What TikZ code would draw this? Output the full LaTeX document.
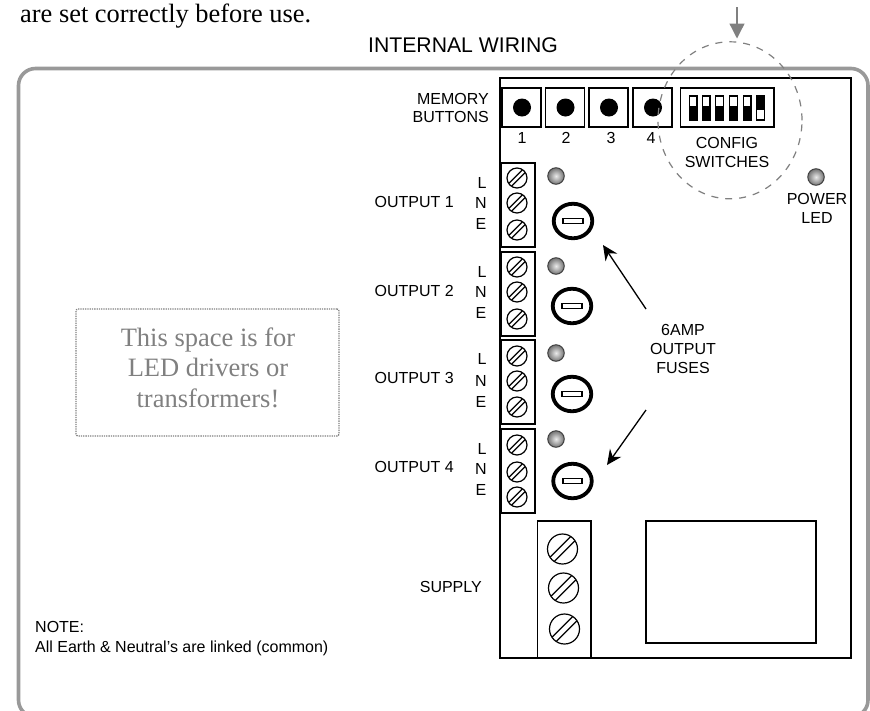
\documentclass[tikz,border=0pt]{standalone}
\usepackage{fontspec}
\setmainfont{Liberation Sans}
\newfontfamily\timesf{Liberation Serif}
\usetikzlibrary{shapes.geometric,arrows.meta}
\definecolor{framegray}{HTML}{999999}
\definecolor{dimgray}{HTML}{808080}
\tikzset{
  x=1pt,y=-1pt,
  lbl/.style={font=\fontsize{16}{18.8}\selectfont,inner sep=0pt,align=center},
  frameline/.style={draw=framegray,line width=3.6pt,rounded corners=17pt},
  boardline/.style={draw=black,line width=1.8pt},
  boxline/.style={draw=black,line width=1.6pt},
  blockline/.style={draw=black,line width=1.4pt,fill=white},
  ledshape/.style={circle,minimum size=16.5pt,inner sep=0pt,draw=black!75,line width=1pt,inner color=white!92!black,outer color=black!55},
  dotshape/.style={circle,minimum size=18pt,inner sep=0pt,fill=black},
  fuseshape/.style={ellipse,minimum width=38.5pt,minimum height=34.5pt,inner sep=0pt,draw=black,line width=3.8pt,fill=white},
  slotshape/.style={rectangle,minimum width=19.5pt,minimum height=5pt,inner sep=0pt,draw=black,line width=1.6pt,fill=white},
  arrowline/.style={draw=black,line width=1.3pt,-{Stealth[length=15pt,width=14pt,inset=5pt]}},
}
\newcommand{\screwat}[4]{%
  \node[circle,draw=black,line width=1.2pt,minimum size=#3,inner sep=0pt,fill=white] (#4) at (#1,#2) {};
  \draw[line width=1.2pt,shift={(#1,#2)}] (-#3*.405,-#3*.265) -- (#3*.265,#3*.405)
    (-#3*.265,-#3*.405) -- (#3*.405,#3*.265);}
\newcommand{\switchat}[2]{%
  \fill[black] (#1,95) rectangle (#1+9,121);
  \ifnum#2=0
    \fill[white] (#1+1.3,97) rectangle (#1+7.7,106);
  \else
    \fill[white] (#1+1.3,110) rectangle (#1+7.7,119);
  \fi}
\begin{document}
\begin{tikzpicture}
\useasboundingbox (0,0) rectangle (870,710);
\node[anchor=base west,inner sep=0pt,font=\timesf\fontsize{26.4}{30}\selectfont] (top) at (20,22) {are set correctly before use.};
\node[lbl,font=\fontsize{21.2}{24}\selectfont] (title) at (463,45) {INTERNAL WIRING};
\begin{scope}
\clip (0,0) rectangle (870,710);
\draw[frameline] (18.5,68.5) -- (868,68.5) -- (868,717) -- (18.5,717) -- cycle;
\end{scope}
\draw[boardline,fill=white] (500,78) rectangle (851,658);

% memory buttons
\foreach \xa/\n/\xn in {502/1/522,545.5/2/566,589/3/611,633/4/651}{
  \draw[boxline] (\xa,88) rectangle (\xa+39,127);
  \node[dotshape] (btn\n) at (\xa+20,107.5) {};
  \node[lbl] (num\n) at (\xn,137.5) {\n};
}
\node[lbl,align=right,anchor=east] (mem) at (489,108) {MEMORY\\BUTTONS};

% config switches
\draw[boxline] (680.5,88) rectangle (774,127);
\switchat{688.5}{0}\switchat{701.5}{0}\switchat{715}{0}\switchat{729}{0}\switchat{742.5}{0}\switchat{756}{1}
\node[lbl] (cfg) at (727,152.5) {CONFIG\\SWITCHES};

% output terminals
\draw[blockline] (501,163) rectangle (535,247);
\draw[blockline] (501,252) rectangle (535,336);
\draw[blockline] (501,340) rectangle (535,424);
\draw[blockline] (501,429) rectangle (535,513);
\foreach \n/\ya/\yb/\yc in {1/178/203/230,2/267/292/319,3/356/381/407,4/445/472/497}{
  \screwat{517}{\ya}{20pt}{sa\n}
  \screwat{517}{\yb}{20pt}{sb\n}
  \screwat{517}{\yc}{20pt}{sc\n}
}
\foreach \n/\ya/\yb/\yc/\yt in {1/183/203/224/202,2/272/292/313/291,3/359/381/402/378,4/449/469/490/467}{
  \node[lbl] (l\n) at (482,\ya) {L};
  \node[lbl] (n\n) at (481,\yb) {N};
  \node[lbl] (e\n) at (481,\yc) {E};
  \node[lbl,anchor=east] (out\n) at (454,\yt) {OUTPUT \n};
}

% leds and fuses
\node[ledshape] (led1) at (556,176) {};
\node[ledshape] (led2) at (556,266) {};
\node[ledshape] (led3) at (556,353) {};
\node[ledshape] (led4) at (556,439) {};
\node[ledshape] (ledp) at (816,177) {};
\node[lbl] (pwr) at (817,208.5) {POWER\\LED};
\foreach \n/\xa/\ya in {1/573/221,2/572/306,3/572/394,4/572.5/481}{
  \node[fuseshape] (fuse\n) at (\xa,\ya) {};
  \node[slotshape] (slot\n) at (\xa,\ya) {};
}
\node[lbl] (fus) at (683,349) {6AMP\\OUTPUT\\FUSES};
\coordinate (tipa) at (603,245);
\coordinate (tipb) at (607,465);
\coordinate (taila) at (646,309);
\coordinate (tailb) at (646,410);
\draw[arrowline] (taila) -- (tipa);
\draw[arrowline] (tailb) -- (tipb);

% supply
\draw[blockline] (537.5,521) rectangle (591,658);
\screwat{562.5}{549}{30pt}{sup1}
\screwat{563.5}{588}{30pt}{sup2}
\screwat{564.5}{629}{30pt}{sup3}
\node[lbl,anchor=east] (sup) at (482,587) {SUPPLY};
\draw[boxline] (646,521) rectangle (816,643);

% dashed circle
\node[ellipse,draw=dimgray,dash pattern=on 7pt off 7pt,line width=1.2pt,minimum width=144pt,minimum height=157pt,inner sep=0pt] (ring) at (730,120.3) {};
\coordinate (dtop) at (737,7);
\draw[draw=dimgray,line width=1.3pt,-{Triangle[length=15pt,width=15pt]}] (dtop) -- (737,38.5);

% space box
\node[draw=dimgray,densely dotted,line width=1.3pt,rounded corners=2pt,minimum width=263pt,minimum height=127pt,inner sep=0pt] (space) at (207.5,372.5) {};
\node[inner sep=0pt,align=center,text=dimgray,font=\timesf\fontsize{26.5}{30.5}\selectfont] (spacetext) at (208,367.5) {This space is for\\LED drivers or\\transformers!};

% note
\node[anchor=north west,align=left,inner sep=0pt,font=\fontsize{16}{20}\selectfont] (note) at (35,621) {NOTE:\\All Earth \& Neutral’s are linked (common)};
\end{tikzpicture}
\end{document}
